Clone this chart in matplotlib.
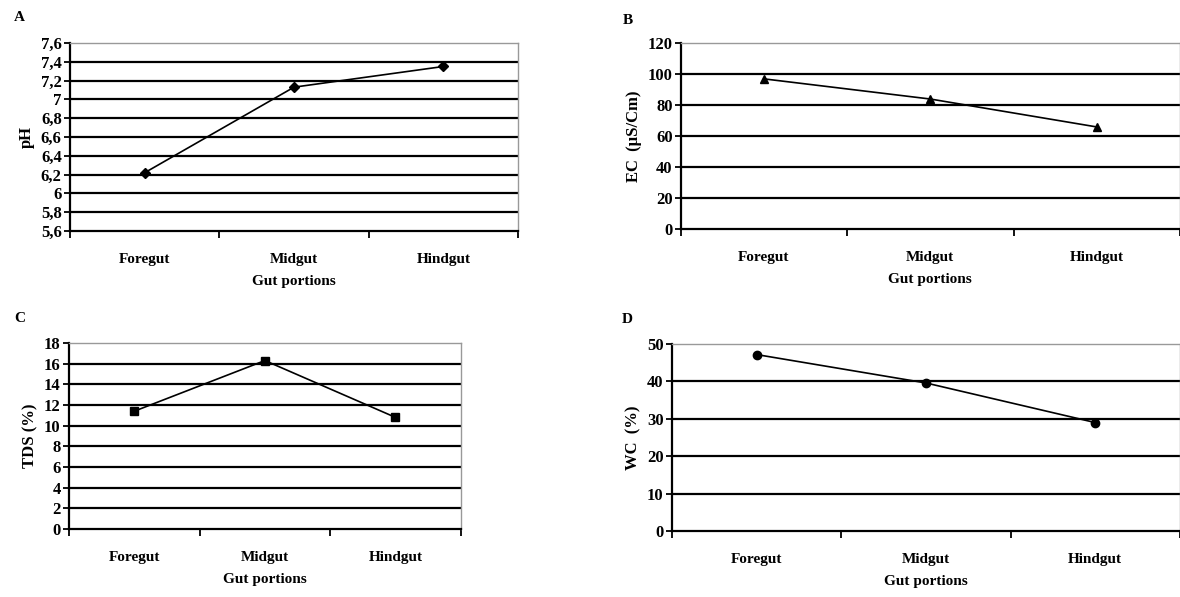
import matplotlib
matplotlib.use("Agg")
import matplotlib.pyplot as plt

plt.rcParams['font.family'] = ['Liberation Serif', 'DejaVu Serif']
plt.rcParams['font.weight'] = 'bold'
plt.rcParams['axes.labelweight'] = 'bold'

portions = ['Foregut', 'Midgut', 'Hindgut']

ph_values = [6.22, 7.13, 7.35]
ec_values = [97, 84, 66]
tds_values = [11.4, 16.3, 10.8]
wc_values = [47.2, 39.6, 29.0]

ph_ticks = [5.6, 5.8, 6.0, 6.2, 6.4, 6.6, 6.8, 7.0, 7.2, 7.4, 7.6]
ph_labels = ['5,6', '5,8', '6', '6,2', '6,4', '6,6', '6,8', '7', '7,2', '7,4', '7,6']
ec_ticks = [0, 20, 40, 60, 80, 100, 120]
tds_ticks = [0, 2, 4, 6, 8, 10, 12, 14, 16, 18]
wc_ticks = [0, 10, 20, 30, 40, 50]


def draw_panel(ax, values, ticks, labels, ylabel, marker, msize):
    x = [0.5, 1.5, 2.5]
    ax.plot(x, values, color='black', lw=1.2, marker=marker, ms=msize,
            mfc='black', mec='black', zorder=3)
    ax.set_xlim(0, 3)
    ax.set_ylim(ticks[0], ticks[-1])
    ax.set_yticks(ticks)
    ax.set_yticklabels(labels)
    # horizontal grid lines (top one is the gray frame)
    for t in ticks[1:-1]:
        ax.axhline(t, color='black', lw=1.6, zorder=1)
    ax.set_xticks([0, 1, 2, 3])
    ax.set_xticklabels([])
    ax.set_xticks(x, minor=True)
    ax.set_xticklabels(portions, minor=True, fontsize=11)
    ax.tick_params(axis='x', which='minor', length=0, pad=16)
    ax.tick_params(axis='x', which='major', length=5, width=1.3, direction='out')
    ax.tick_params(axis='y', length=4, width=1.3, direction='out', labelsize=12, pad=2)
    ax.spines['left'].set_linewidth(1.6)
    ax.spines['bottom'].set_linewidth(1.6)
    for s in ['top', 'right']:
        ax.spines[s].set_color('#999999')
        ax.spines[s].set_linewidth(1.0)
    ax.set_xlabel('Gut portions', fontsize=11, labelpad=6)
    ax.set_ylabel(ylabel, fontsize=12, labelpad=4)


fig = plt.figure(figsize=(11.8, 5.97), dpi=100)

ax_a = fig.add_axes([0.0593, 0.613, 0.3797, 0.315])
ax_b = fig.add_axes([0.577, 0.616, 0.4229, 0.3116])
ax_c = fig.add_axes([0.0585, 0.1139, 0.332, 0.3116])
ax_d = fig.add_axes([0.5695, 0.1106, 0.4305, 0.313])

draw_panel(ax_a, ph_values, ph_ticks, ph_labels, 'pH', 'D', 5)
draw_panel(ax_b, ec_values, ec_ticks, [str(t) for t in ec_ticks],
           'EC  (µS/Cm)', '^', 6)
draw_panel(ax_c, tds_values, tds_ticks, [str(t) for t in tds_ticks],
           'TDS (%)', 's', 6)
draw_panel(ax_d, wc_values, wc_ticks, [str(t) for t in wc_ticks],
           'WC  (%)', 'o', 6)

# panel letters
fig.text(0.012, 0.970, 'A', fontsize=11, fontweight='bold', va='center')
fig.text(0.528, 0.965, 'B', fontsize=11, fontweight='bold', va='center')
fig.text(0.012, 0.467, 'C', fontsize=11, fontweight='bold', va='center')
fig.text(0.527, 0.464, 'D', fontsize=11, fontweight='bold', va='center')

fig.savefig('out.png', dpi=100)
